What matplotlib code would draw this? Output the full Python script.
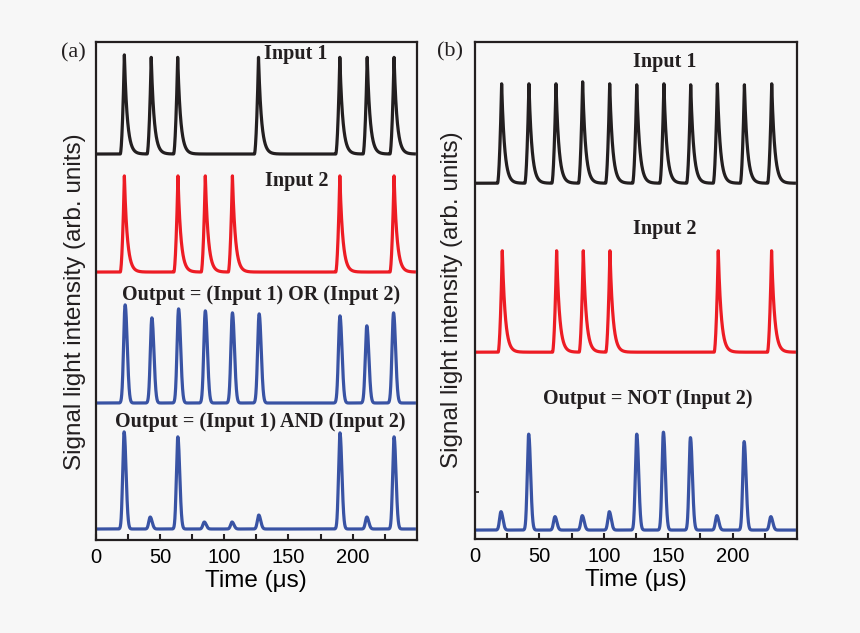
import numpy as np
import matplotlib.pyplot as plt

# ---- data: pulse peak times (us) and peak heights ----
# panel (a)
a_in1_t = [22.3, 43.2, 63.8, 126.7, 190.0, 211.3, 232.2]
a_in1_h = [19.9, 19.4, 19.4, 19.4, 19.4, 19.4, 19.4]
a_in2_t = [22.3, 64.0, 85.3, 106.4, 190.0, 232.2]
a_in2_h = [19.3, 19.3, 19.3, 19.3, 19.3, 19.3]
a_or_t = [22.9, 43.7, 64.5, 85.3, 106.4, 127.2, 190.1, 211.0, 231.8]
a_or_h = [19.7, 17.1, 18.9, 18.5, 18.1, 17.9, 17.5, 15.5, 18.1]
a_and_t = [22.1, 42.4, 63.9, 84.5, 106.1, 126.9, 190.1, 211.0, 232.2]
a_and_h = [19.5, 2.4, 18.5, 1.4, 1.4, 2.8, 19.3, 2.4, 18.5]

# panel (b)
b_in1_t = [20.7, 41.9, 62.9, 83.6, 104.6, 125.6, 146.7, 167.5, 188.2, 209.2, 230.4]
b_in1_h = [20.0, 20.0, 20.0, 20.4, 20.0, 19.8, 20.0, 19.8, 20.0, 19.8, 20.0]
b_in2_t = [21.2, 63.4, 84.1, 104.8, 188.9, 230.3]
b_in2_h = [20.4, 20.4, 20.4, 20.4, 20.4, 20.4]
b_not_t = [20.2, 41.7, 62.1, 83.3, 104.3, 125.6, 146.3, 167.3, 187.8, 209.0, 229.7]
b_not_h = [3.7, 19.3, 2.7, 2.9, 3.7, 19.3, 19.7, 18.6, 2.9, 17.8, 2.7]

xticks = [0, 25, 50, 75, 100, 125, 150, 175, 200, 225]
xticklabels = ['0', '', '50', '', '100', '', '150', '', '200', '']

BLACK = '#231f20'
RED = '#ed1c24'
BLUE = '#3953a4'
BG = '#f7f7f7'

t = np.arange(2.0, 248.0, 0.05)


def sharp_trace(times, heights, rise=3.2, tau=2.3):
    # fast rise + exponential decay (input signals)
    y = np.zeros_like(t)
    for t0, h in zip(times, heights):
        p = np.zeros_like(t)
        up = (t >= t0 - rise) & (t < t0)
        p[up] = h * ((t[up] - t0 + rise) / rise) ** 1.8
        dn = t >= t0
        p[dn] = h * np.exp(-(t[dn] - t0) / tau)
        y += p
    return y


def soft_trace(times, heights, sl=1.1, sr=1.5):
    # near gaussian pulses (output signals)
    y = np.zeros_like(t)
    for t0, h in zip(times, heights):
        s = np.where(t < t0, sl, sr)
        y += h * np.exp(-0.5 * ((t - t0) / s) ** 2)
    return y


fig = plt.figure(figsize=(8.6, 6.33), dpi=100)
fig.patch.set_facecolor(BG)
axa = fig.add_axes([0.1113, 0.147, 0.3735, 0.7867])
axb = fig.add_axes([0.5523, 0.1485, 0.3744, 0.785])

for ax in (axa, axb):
    ax.set_facecolor(BG)
    ax.set_xlim(0, 250)
    ax.set_ylim(0, 100)
    ax.set_xticks(xticks)
    ax.set_xticklabels(xticklabels, fontfamily='Liberation Sans', fontsize=14.5)
    ax.tick_params(axis='x', direction='in', length=4, width=1.5, color=BLACK, pad=6)
    ax.set_yticks([])
    for s in ax.spines.values():
        s.set_linewidth(1.6)
        s.set_color(BLACK)
    ax.set_xlabel('Time (\u03bcs)', fontfamily='Liberation Sans', fontsize=17.5, labelpad=2)

lw = 2.3
# panel (a)
axa.plot(t, 77.5 + sharp_trace(a_in1_t, a_in1_h), color=BLACK, lw=lw)
axa.plot(t, 53.8 + sharp_trace(a_in2_t, a_in2_h), color=RED, lw=lw)
axa.plot(t, 27.5 + soft_trace(a_or_t, a_or_h, 1.2, 1.6), color=BLUE, lw=lw)
axa.plot(t, 2.2 + soft_trace(a_and_t, a_and_h), color=BLUE, lw=lw)

tkw = dict(fontfamily='Liberation Serif', fontweight='bold', fontsize=14.5,
           ha='center', va='center', color=BLACK)
axa.text(155.5, 97.6, 'Input 1', **tkw)
axa.text(156.3, 72.1, 'Input 2', **tkw)
axa.text(129.0, 49.2, 'Output = (Input 1) OR (Input 2)', **tkw)
axa.text(128.2, 23.7, 'Output = (Input 1) AND (Input 2)', **tkw)

# panel (b)
axb.plot(t, 71.6 + sharp_trace(b_in1_t, b_in1_h), color=BLACK, lw=lw)
axb.plot(t, 37.6 + sharp_trace(b_in2_t, b_in2_h), color=RED, lw=lw)
axb.plot(t, 1.8 + soft_trace(b_not_t, b_not_h), color=BLUE, lw=lw)
axb.text(147.5, 96.0, 'Input 1', **tkw)
axb.text(147.5, 62.4, 'Input 2', **tkw)
axb.text(133.9, 28.2, 'Output = NOT (Input 2)', **tkw)
axb.set_yticks([9.5])
axb.set_yticklabels([''])
axb.tick_params(axis='y', direction='in', length=3, width=1.2, color=BLACK)

ylab = 'Signal light intensity (arb. units)'
fig.text(0.0872, 0.523, ylab, rotation=90, ha='center', va='center',
         fontfamily='Liberation Sans', fontsize=17.5, color=BLACK)
fig.text(0.5256, 0.526, ylab, rotation=90, ha='center', va='center',
         fontfamily='Liberation Sans', fontsize=17.5, color=BLACK)
fig.text(0.085, 0.916, '(a)', ha='center', va='center',
         fontfamily='Liberation Serif', fontsize=16, color=BLACK)
fig.text(0.523, 0.918, '(b)', ha='center', va='center',
         fontfamily='Liberation Serif', fontsize=16, color=BLACK)

fig.savefig('out.png', dpi=100, facecolor=BG)
